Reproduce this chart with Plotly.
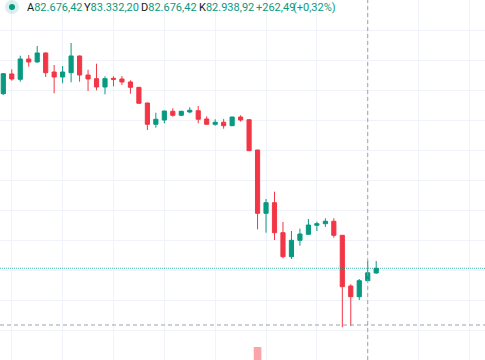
import plotly.graph_objects as go

# ---- data ----
opens  = [88910, 89567, 89390, 90067, 89967, 90267, 89633, 89467, 89610, 90167,
          89533, 89410, 89133, 89423, 89400, 89300, 89123, 88600, 87890, 88033,
          88323, 88190, 88300, 88343, 88067, 87890, 87957, 87843, 88133, 88043,
          87033, 84923, 85277, 84277, 83477, 84023, 84223, 84523, 84577, 84657,
          84190, 82500, 82143, 82676.42, 82933]
highs  = [89590, 89723, 90177, 90200, 90500, 90280, 89867, 89833, 90600, 90180,
          89710, 89910, 89490, 89490, 89500, 89357, 89133, 88610, 88277, 88340,
          88423, 88340, 88457, 88500, 88157, 88057, 88067, 88140, 88190, 88050,
          87040, 85400, 85643, 84633, 84333, 84410, 84733, 84643, 84757, 84757,
          84200, 82557, 82733, 83332.20, 83333]
lows   = [88867, 89343, 89310, 89810, 89950, 89467, 88923, 89257, 89290, 89310,
          89000, 89023, 88890, 89157, 89200, 88910, 88580, 87700, 87777, 87923,
          88143, 88170, 88257, 87923, 87880, 87843, 87743, 87830, 87977, 87000,
          84390, 84277, 84033, 83423, 83400, 83843, 84210, 84333, 84467, 84110,
          81123, 81167, 82033, 82676.42, 82910]
closes = [89577, 89400, 90067, 89967, 90267, 89610, 89467, 89633, 90167, 89533,
          89400, 89133, 89410, 89390, 89300, 89123, 88590, 87890, 88057, 88333,
          88190, 88323, 88357, 88057, 87890, 87957, 87843, 88133, 88033, 87010,
          84923, 85277, 84277, 83477, 84023, 84233, 84533, 84577, 84657, 84190,
          82477, 82143, 82677, 82938.92, 83090]
volumes = [420, 380, 510, 360, 450, 600, 520, 410, 640, 580,
           400, 470, 430, 300, 320, 380, 520, 760, 540, 430,
           330, 300, 280, 460, 380, 300, 340, 390, 310, 880,
           2000, 820, 900, 860, 700, 520, 480, 350, 330, 560,
           960, 780, 640, 520, 300]

legend_parts = [("A", "82.676,42"), ("Y", "83.332,20"), ("D", "82.676,42"),
                ("K", "82.938,92"), ("", "+262,49"), ("", "(+0,32%)")]
crosshair_index = 43
crosshair_price = 81200

GREEN = "#089981"
RED = "#F23645"
W, H = 485, 360
idx = list(range(len(opens)))

fig = go.Figure()
fig.add_trace(go.Bar(
    x=idx, y=volumes, yaxis="y2", width=0.9,
    marker=dict(color=["rgba(8,153,129,0.45)" if c >= o else "rgba(242,54,69,0.45)"
                       for o, c in zip(opens, closes)], line=dict(width=0)),
    hoverinfo="skip", showlegend=False))
fig.add_trace(go.Candlestick(
    x=idx, open=opens, high=highs, low=lows, close=closes,
    increasing=dict(line=dict(color=GREEN, width=1), fillcolor=GREEN),
    decreasing=dict(line=dict(color=RED, width=1), fillcolor=RED),
    whiskerwidth=0, showlegend=False))

def px(x):
    return x / W
def py(y):
    return 1 - y / H

shapes = []
shapes.append(dict(type="line", xref="paper", x0=0, x1=1, yref="y", y0=closes[-1], y1=closes[-1],
                   line=dict(color="rgba(8,153,129,0.75)", width=1, dash="1px,1px"), layer="above"))
shapes.append(dict(type="line", xref="x", x0=crosshair_index, x1=crosshair_index, yref="paper", y0=0, y1=1,
                   line=dict(color="rgba(149,152,161,0.9)", width=1, dash="4px,3px"), layer="above"))
shapes.append(dict(type="line", xref="paper", x0=0, x1=1, yref="y", y0=crosshair_price, y1=crosshair_price,
                   line=dict(color="rgba(149,152,161,0.9)", width=1, dash="4px,3px"), layer="above"))
shapes.append(dict(type="rect", xref="paper", yref="paper", x0=px(0), x1=px(336), y0=py(15), y1=py(0),
                   fillcolor="white", line=dict(width=0), layer="between"))
shapes.append(dict(type="circle", xref="paper", yref="paper", x0=px(5), x1=px(19), y0=py(14), y1=py(0),
                   fillcolor="rgba(8,153,129,0.15)", line=dict(width=0), layer="above"))
shapes.append(dict(type="circle", xref="paper", yref="paper", x0=px(9), x1=px(15), y0=py(10), y1=py(4),
                   fillcolor=GREEN, line=dict(width=0), layer="above"))

starts = [26, 83.3, 140, 198.3, 255, 291.7]
annotations = []
for (lab, val), sx in zip(legend_parts, starts):
    txt = (f'<span style="color:#131722">{lab}</span>' if lab else "") + f'<span style="color:{GREEN}">{val}</span>'
    annotations.append(dict(text=txt, xref="paper", yref="paper", x=px(sx), y=py(7.5),
                            xanchor="left", yanchor="middle", showarrow=False,
                            font=dict(family="Roboto", size=11), borderpad=0))

step = 8.475
x0 = 3.3
fig.update_layout(
    width=W, height=H, margin=dict(l=0, r=0, t=0, b=0),
    paper_bgcolor="white", plot_bgcolor="white",
    xaxis=dict(range=[-x0 / step, (W - x0) / step], showticklabels=False, ticks="",
               showgrid=True, gridcolor="#f0f3fa", gridwidth=1, tick0=1, dtick=6,
               zeroline=False, rangeslider=dict(visible=False), showline=False),
    yaxis=dict(range=[80033, 92033], showticklabels=False, ticks="", showgrid=True,
               gridcolor="#f0f3fa", gridwidth=1, tick0=0, dtick=1000, zeroline=False),
    yaxis2=dict(overlaying="y", range=[1000, 28700], visible=False, showgrid=False),
    shapes=shapes, annotations=annotations, showlegend=False, hovermode=False,
)
fig.write_html("out.html", config={"displayModeBar": False, "staticPlot": True},
               post_script="document.body.style.margin='0';document.body.style.padding='0';")
